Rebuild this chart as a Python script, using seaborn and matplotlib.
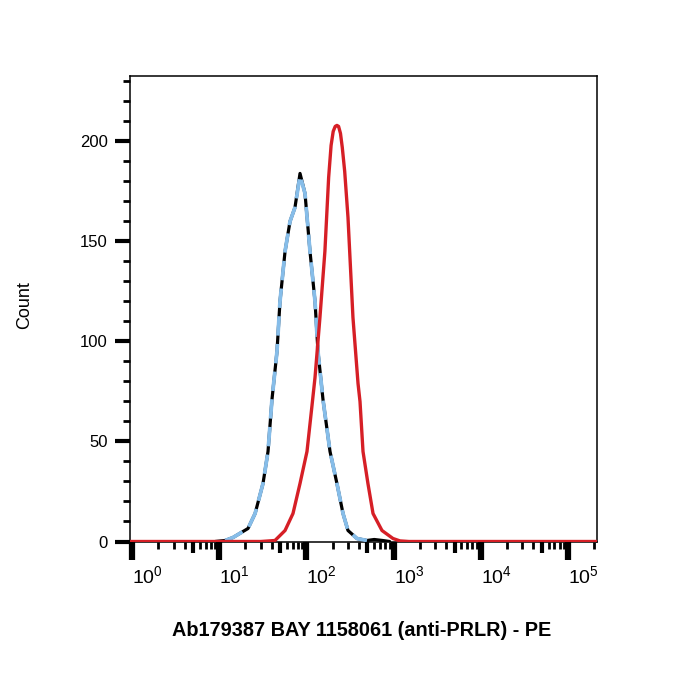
import numpy as np
import pandas as pd
import matplotlib
matplotlib.use("Agg")
import matplotlib.pyplot as plt
import seaborn as sns
from matplotlib.ticker import FixedLocator, LogFormatterMathtext, NullFormatter

# isotype control (black) and its overlay (light blue dashed)
black_x = [9.0, 11.7, 14.4, 21.4, 25.8, 31.8, 36.3, 40.3, 46.0, 49.8, 56.9, 64.9, 74.0,
           84.5, 96.4, 110, 125.6, 135.8, 155, 186.6, 224, 263, 300, 380, 495, 600, 750, 900]
black_y = [0, 0.5, 2, 6.5, 14, 29, 45, 71, 95, 120, 145, 160, 167,
           184, 174, 145, 120, 95, 71, 45, 29, 14, 5.5, 1.5, 0.5, 1, 0.5, 0]
blue_x = [11.7, 14.4, 21.4, 25.8, 31.8, 36.3, 40.3, 46.0, 49.8, 56.9, 64.9, 74.0,
          84.5, 96.4, 110, 125.6, 135.8, 155, 186.6, 224, 263, 300, 380, 495]
blue_y = [0.5, 2, 6.5, 14, 29, 45, 71, 95, 120, 145, 160, 167,
          183, 174, 145, 120, 95, 71, 45, 29, 14, 5.5, 1.5, 0.5]
# anti-PRLR (red)
red_x = [0.9, 30, 43.6, 56.9, 70.2, 84.5, 101.6, 116, 125.6, 143, 163, 180, 192, 203, 214,
         224, 234, 246, 258, 275, 300, 342, 391, 412, 446, 508, 581, 736, 984, 1183, 1500, 2.5e5]
red_y = [0, 0, 0.5, 5.5, 14, 29, 45, 68, 82, 112, 145, 182, 198, 205, 207.5,
         208, 207.5, 204, 197, 185, 162, 112, 79, 70, 45, 29, 14, 5.5, 1.5, 0.3, 0, 0]

x_label = "Ab179387 BAY 1158061 (anti-PRLR) - PE"
y_label = "Count"

sns.set_style("ticks")
plt.rcParams['font.family'] = ['Liberation Sans', 'DejaVu Sans']
plt.rcParams['mathtext.fontset'] = 'custom'
plt.rcParams['mathtext.rm'] = 'Liberation Sans'
plt.rcParams['mathtext.it'] = 'Liberation Sans'
plt.rcParams['lines.scale_dashes'] = False

fig = plt.figure(figsize=(7, 7), dpi=100)
ax = fig.add_axes([130 / 700, 1 - 541.5 / 700, 467 / 700, 465.5 / 700])

sns.lineplot(x=black_x, y=black_y, ax=ax, color='black', linewidth=2.3, sort=False,
             estimator=None, zorder=2)
sns.lineplot(x=blue_x, y=blue_y, ax=ax, color='#86bde9', linewidth=2.7, sort=False,
             estimator=None, zorder=3)
ax.lines[-1].set_linestyle((0, (14, 6)))
sns.lineplot(x=red_x, y=red_y, ax=ax, color='#d61f26', linewidth=2.4, sort=False,
             estimator=None, zorder=4)

ax.set_xscale('log')
ax.set_xlim(10 ** -0.023, 10 ** 5.333)
ax.set_ylim(0, 232.7)

for s in ax.spines.values():
    s.set_visible(True)
    s.set_linewidth(1.1)
    s.set_color('black')

decades = [1, 10, 100, 1000, 1e4, 1e5]
ax.xaxis.set_major_locator(FixedLocator(decades))
ax.xaxis.set_major_formatter(LogFormatterMathtext())
minor = [m * d for d in decades for m in (2, 3, 4, 6, 7, 8, 9)]
ax.xaxis.set_minor_locator(FixedLocator(minor))
ax.xaxis.set_minor_formatter(NullFormatter())
ax.tick_params(axis='x', which='major', length=13, width=4.5, pad=4, labelsize=14,
               color='black', labelcolor='black')
ax.tick_params(axis='x', which='minor', length=5, width=2, color='black')
plt.setp(ax.get_xticklabels(), ha='left')

sec = ax.secondary_xaxis('bottom')
sec.set_xscale('log')
sec.xaxis.set_major_locator(FixedLocator([5 * d for d in decades]))
sec.xaxis.set_major_formatter(NullFormatter())
sec.xaxis.set_minor_locator(FixedLocator([]))
sec.tick_params(axis='x', length=8, width=3, color='black')
sec.spines['bottom'].set_visible(False)

ax.set_yticks([0, 50, 100, 150, 200])
ax.set_yticks(np.arange(0, 240, 10), minor=True)
ax.tick_params(axis='y', which='major', length=11, width=3, pad=5, labelsize=12,
               color='black', labelcolor='black')
ax.tick_params(axis='y', which='minor', length=5, width=2, color='black')

ax.set_xlabel('')
ax.set_ylabel('')
fig.text(362 / 700, 1 - 630 / 700, x_label, ha='center', va='center',
         fontsize=14.3, fontweight='bold', color='black')
fig.text(25 / 700, 1 - 305 / 700, y_label, ha='center', va='center',
         fontsize=13, rotation=90, color='black')

fig.savefig('out.png', dpi=100)
